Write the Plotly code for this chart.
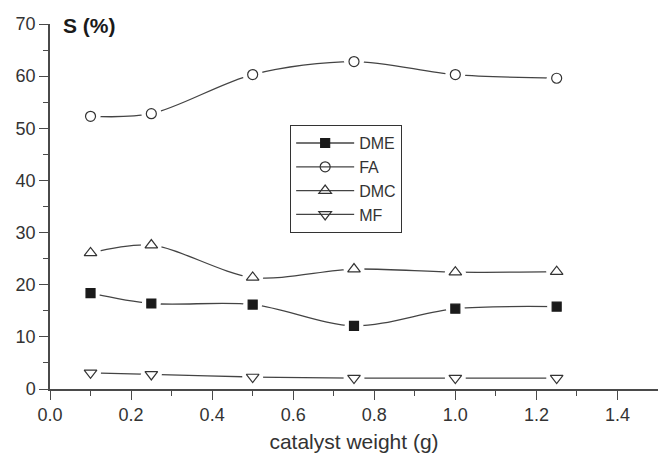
import plotly.graph_objects as go

weights = [0.1, 0.25, 0.5, 0.75, 1.0, 1.25]
dme = [18.4, 16.4, 16.2, 12.1, 15.4, 15.8]
fa = [52.3, 52.8, 60.3, 62.8, 60.3, 59.6]
dmc = [26.1, 27.6, 21.4, 23.0, 22.4, 22.5]
mf = [3.1, 2.8, 2.3, 2.1, 2.1, 2.1]

series = [
    ("DME", dme, "square", "#1a1a1a", 9),
    ("FA", fa, "circle-open", "#333333", 10),
    ("DMC", dmc, "triangle-up-open", "#333333", 11),
    ("MF", mf, "triangle-down-open", "#333333", 11),
]

FONT = "Liberation Sans, Arial, sans-serif"
fig = go.Figure()

for name, vals, sym, col, sz in series:
    fig.add_trace(go.Scatter(x=weights, y=vals, mode="lines",
                             line=dict(shape="spline", smoothing=0.9, color="#444444", width=1.3),
                             showlegend=False, hoverinfo="skip"))
for name, vals, sym, col, sz in series:
    fig.add_trace(go.Scatter(x=weights, y=vals, mode="markers",
                             marker=dict(symbol="circle", size=sz + 10, color="white"),
                             showlegend=False, hoverinfo="skip"))
for name, vals, sym, col, sz in series:
    xs, ys = [], []
    for xv, yv in zip(weights, vals):
        xs += [xv, None]
        ys += [yv, None]
    fig.add_trace(go.Scatter(x=xs, y=ys, mode="lines+markers", name=name,
                             connectgaps=False,
                             line=dict(color="#444444", width=1.3),
                             marker=dict(symbol=sym, size=sz, color=col,
                                         line=dict(color=col, width=1.2))))

fig.add_annotation(text="<b>S (%)</b>", xref="paper", yref="paper",
                   x=0.018, y=0.995, xanchor="left", yanchor="middle",
                   showarrow=False, font=dict(family=FONT, size=21, color="#1a1a1a"))

axis_common = dict(showline=True, linecolor="#4a4a4a", linewidth=1.5,
                   ticks="outside", ticklen=9, tickwidth=1.3, tickcolor="#4a4a4a",
                   showgrid=False, zeroline=False,
                   tickfont=dict(family=FONT, size=18, color="#333333"))

fig.update_xaxes(range=[0, 1.5], dtick=0.2, tick0=0, tickformat=".1f",
                 minor=dict(dtick=0.1, ticks="outside", ticklen=5, tickwidth=1.3,
                            tickcolor="#4a4a4a"),
                 title=dict(text="catalyst weight (g)", font=dict(family=FONT, size=21, color="#333333"),
                            standoff=12),
                 **axis_common)
fig.update_yaxes(range=[0, 70], dtick=10, tick0=0,
                 minor=dict(dtick=5, ticks="outside", ticklen=5, tickwidth=1.3,
                            tickcolor="#4a4a4a"),
                 **axis_common)

fig.update_layout(
    width=658, height=453,
    margin=dict(l=50, r=0, t=24, b=64),
    paper_bgcolor="white", plot_bgcolor="white",
    font=dict(family=FONT, color="#333333"),
    legend=dict(x=0.395, y=0.723, xanchor="left", yanchor="top",
                bordercolor="#333333", borderwidth=1, bgcolor="white",
                font=dict(family=FONT, size=16, color="#333333"),
                tracegroupgap=0, itemwidth=58, entrywidth=118, entrywidthmode="pixels"),
)

fig.write_html("out.html")
